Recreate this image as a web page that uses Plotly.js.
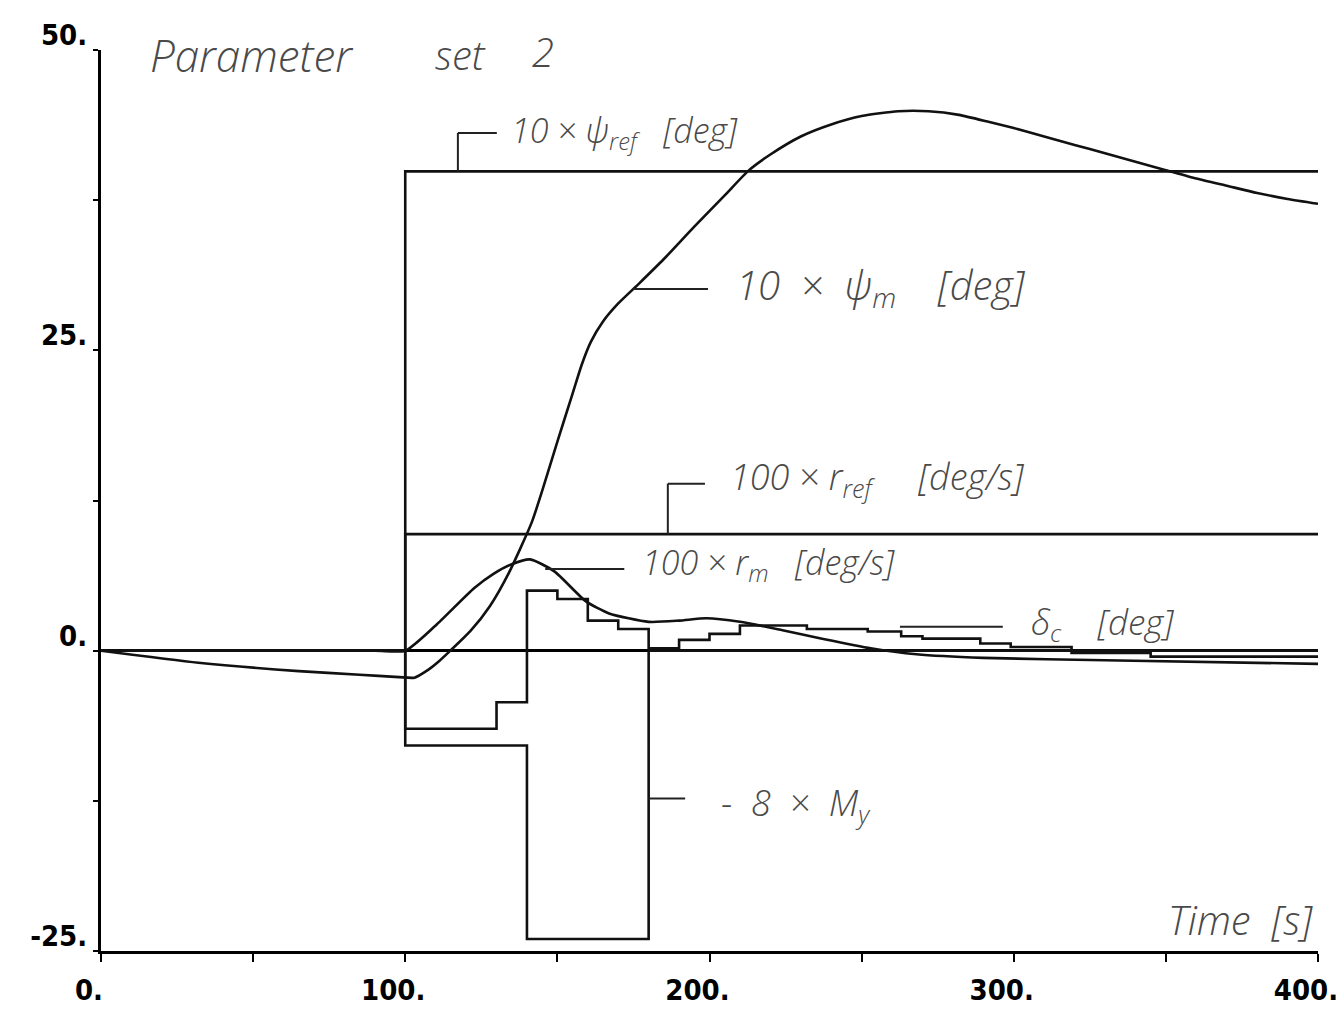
<!DOCTYPE html>
<html>
<head>
<meta charset="utf-8">
<script src="https://cdn.plot.ly/plotly-3.0.1.min.js"></script>
<style>html,body{margin:0;padding:0;background:#fff;}#chart{width:1344px;height:1011px;}</style>
</head>
<body>
<div id="chart"></div>
<script>
// ---- data ----
const tPsiRef = [0, 100, 400];
const psiRef  = [0, 39.9, 39.9];      // 10 x psi_ref [deg]

const tRRef = [0, 100, 400];
const rRef  = [0, 9.7, 9.7];          // 100 x r_ref [deg/s]

const tMy = [0, 100, 140, 180, 400];
const my  = [0, -7.9, -24.0, 0, 0];   // -8 x My

const tDelta = [0, 100, 130, 140, 150, 160, 170, 180, 190, 200, 210, 232, 252, 263, 270, 289, 299, 319, 345, 400];
const delta  = [0, -6.5, -4.3, 5.0, 4.3, 2.5, 1.8, 0.2, 0.9, 1.4, 2.1, 1.8, 1.6, 1.2, 1.0, 0.6, 0.3, -0.2, -0.5, -0.6];

const tRm = [0, 90, 100, 110, 122.6, 129, 135, 141, 149, 159.4, 167, 180, 190, 199, 210, 224, 237, 253, 268, 290, 330, 400];
const rm  = [0, 0, 0, 2.1, 5.2, 6.4, 7.2, 7.6, 6.6, 4.1, 3.1, 2.4, 2.5, 2.7, 2.4, 1.7, 1.0, 0.2, -0.3, -0.6, -0.8, -1.1];

const tPsiM = [0, 32, 65, 85, 98, 103, 107.5, 111, 114.4, 121.3, 127.8, 134.1, 141.6, 145, 150, 155, 158, 161, 165, 170, 177, 185, 195, 205, 213, 220, 230, 240, 250, 262, 272, 282, 292, 300, 310, 320, 330, 340, 350, 360, 370, 380, 390, 400];
const psiM  = [0, -1.0, -1.7, -2.0, -2.2, -2.25, -1.6, -0.9, -0.1, 1.6, 3.7, 6.5, 10.7, 13.3, 17.4, 21.4, 23.8, 25.7, 27.4, 28.9, 30.6, 32.6, 35.3, 37.9, 40.0, 41.3, 42.8, 43.8, 44.5, 44.9, 44.9, 44.6, 44.0, 43.5, 42.8, 42.1, 41.4, 40.7, 40.0, 39.3, 38.7, 38.1, 37.6, 37.2];

const xMajor = [0, 100, 200, 300, 400];
const xLabels = ['0.', '100.', '200.', '300.', '400.'];
const xMinor = [50, 150, 250, 350];
const yMajor = [-25, 0, 25, 50];
const yLabels = ['-25.', '0.', '25.', '50.'];
const yMinor = [-12.5, 12.5, 37.5];

// ---- traces ----
const ink = '#111';
function line(x, y, shape, name) {
  return {x: x, y: y, type: 'scatter', mode: 'lines', name: name,
          line: {color: ink, width: 2.6, shape: shape, smoothing: 0.6}, hoverinfo: 'skip'};
}
const data = [
  line(tPsiRef, psiRef, 'hv', '10 x psi_ref'),
  line(tRRef, rRef, 'hv', '100 x r_ref'),
  line(tMy, my, 'hv', '-8 x My'),
  line(tDelta, delta, 'hv', 'delta_c'),
  line(tRm, rm, 'spline', '100 x r_m'),
  line(tPsiM, psiM, 'spline', '10 x psi_m')
];

// ---- handwritten labels and their leader lines ----
const hand = {family: 'Open Sans, Liberation Sans, sans-serif', size: 30, color: '#4a4a4a', style: 'italic', weight: 300};
function lbl(x, y, text, size, anchor) {
  return {x: x, y: y, xref: 'x', yref: 'y', text: text, showarrow: false,
          xanchor: anchor || 'left', yanchor: 'middle',
          font: Object.assign({}, hand, size ? {size: size} : {})};
}
const annotations = [
  lbl(15.5, 49.6, 'Parameter', 44),
  lbl(109, 49.6, 'set', 40),
  lbl(141, 49.9, '2', 40),
  lbl(134, 43.2, '10 × ψ<sub>ref</sub>   [deg]', 34),
  lbl(208, 30.3, '10  ×  ψ<sub>m</sub>    [deg]', 40),
  lbl(206, 14.3, '100 × r<sub>ref</sub>     [deg/s]', 36),
  lbl(177, 7.2, '100 × r<sub>m</sub>   [deg/s]', 34),
  lbl(305, 2.3, 'δ<sub>c</sub>    [deg]', 35),
  lbl(203, -12.8, '-  8  ×  M<sub>y</sub>', 36),
  lbl(399, -22.4, 'Time  [s]', 40, 'right')
];
function seg(x0, y0, x1, y1) {
  return {type: 'line', xref: 'x', yref: 'y', x0: x0, y0: y0, x1: x1, y1: y1,
          line: {color: '#222', width: 2}};
}
const shapes = [
  seg(117.3, 39.9, 117.3, 43.1), seg(117.3, 43.1, 130.1, 43.1),
  seg(174.8, 30.1, 199.5, 30.1),
  seg(186.3, 9.7, 186.3, 13.9), seg(186.3, 13.9, 198.5, 13.9),
  seg(146, 6.8, 172, 6.8),
  seg(262.6, 2.0, 296.4, 2.0),
  seg(180, -12.3, 192, -12.3)
];

const tickFont = {family: 'DejaVu Sans Condensed, DejaVu Sans, sans-serif', size: 29, color: '#000', weight: 700};

const layout = {
  width: 1344, height: 1011,
  margin: {l: 101, r: 26, t: 50, b: 60},
  paper_bgcolor: '#fff', plot_bgcolor: '#fff',
  showlegend: false,
  xaxis: {
    range: [0, 400], showgrid: false, zeroline: false,
    showline: true, linecolor: '#000', linewidth: 2.5, mirror: false,
    ticks: 'outside', ticklen: 8, tickwidth: 2, tickcolor: '#000',
    tickmode: 'array', tickvals: xMajor, ticktext: xLabels, tickfont: tickFont,
    ticklabelshift: -12, ticklabelstandoff: 4,
    minor: {tickmode: 'array', tickvals: xMinor, ticks: 'outside', ticklen: 8, tickwidth: 2, tickcolor: '#000', showgrid: false}
  },
  yaxis: {
    range: [-25, 50], showgrid: false,
    zeroline: true, zerolinecolor: '#000', zerolinewidth: 2.6,
    showline: true, linecolor: '#000', linewidth: 3, mirror: false,
    ticks: 'outside', ticklen: 5, tickwidth: 2, tickcolor: '#000',
    tickmode: 'array', tickvals: yMajor, ticktext: yLabels, tickfont: tickFont,
    ticklabelshift: -15, ticklabelstandoff: 0,
    minor: {tickmode: 'array', tickvals: yMinor, ticks: 'outside', ticklen: 5, tickwidth: 2, tickcolor: '#000', showgrid: false}
  },
  annotations: annotations,
  shapes: shapes
};

Plotly.newPlot('chart', data, layout, {staticPlot: true, displayModeBar: false});
</script>
</body>
</html>
